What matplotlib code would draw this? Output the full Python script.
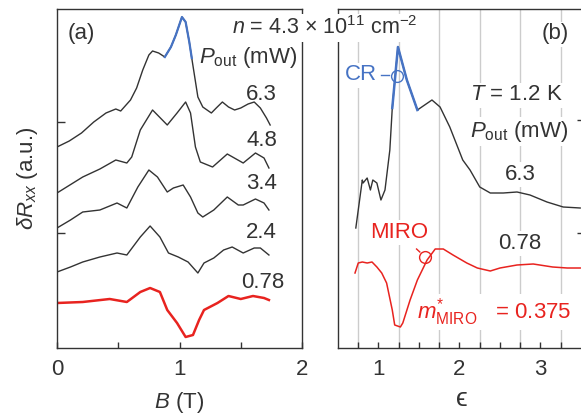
import matplotlib
matplotlib.use("Agg")
import matplotlib.pyplot as plt
import numpy as np

plt.rcParams['font.family'] = ['Liberation Sans', 'DejaVu Sans']
plt.rcParams['mathtext.fontset'] = 'custom'
plt.rcParams['mathtext.rm'] = 'Liberation Sans'
plt.rcParams['mathtext.it'] = 'Liberation Sans:italic'
plt.rcParams['mathtext.bf'] = 'Liberation Sans:bold'

# panel (a): dR_xx vs B, curves offset for each output power
B_63 = [0.0, 0.1, 0.2, 0.3, 0.4, 0.48, 0.52, 0.6, 0.65, 0.7, 0.75, 0.78, 0.83, 0.88, 0.93, 0.97,
        1.02, 1.05, 1.08, 1.10, 1.15, 1.19, 1.26, 1.30, 1.35, 1.40, 1.45, 1.50, 1.56, 1.61, 1.66, 1.71, 1.74]
r_63 = [201, 207, 215, 226, 235, 239, 237, 248, 260, 278, 293, 297, 295, 291, 301, 313,
        331, 326, 306, 290, 251, 241, 235, 240, 246, 241, 238, 240, 244, 246, 240, 230, 223]
B_48 = [0.0, 0.21, 0.35, 0.48, 0.57, 0.61, 0.68, 0.78, 0.90, 0.98, 1.05, 1.09, 1.13, 1.17, 1.27,
        1.39, 1.52, 1.62, 1.69, 1.73]
r_48 = [155, 171, 179, 188, 185, 191, 218, 238, 223, 235, 246, 235, 201, 186, 181,
        194, 185, 195, 190, 180]
B_34 = [0.0, 0.11, 0.21, 0.35, 0.49, 0.57, 0.66, 0.75, 0.82, 0.90, 0.95, 1.03, 1.09, 1.15, 1.19,
        1.28, 1.39, 1.48, 1.52, 1.62, 1.69, 1.73]
r_34 = [120, 128, 136, 138, 145, 140, 161, 178, 171, 156, 160, 163, 151, 135, 131,
        138, 151, 143, 143, 149, 145, 138]
B_24 = [0.0, 0.11, 0.21, 0.35, 0.49, 0.57, 0.68, 0.76, 0.84, 0.91, 0.99, 1.07, 1.15, 1.20, 1.28,
        1.36, 1.43, 1.52, 1.61, 1.66, 1.73]
r_24 = [76, 81, 86, 91, 95, 93, 111, 122, 111, 95, 91, 86, 75, 85, 90,
        98, 101, 95, 100, 100, 93]
B_078 = [0.0, 0.21, 0.43, 0.57, 0.68, 0.76, 0.84, 0.90, 0.98, 1.05, 1.11, 1.16, 1.20, 1.31, 1.40,
         1.50, 1.60, 1.69, 1.73]
r_078 = [45, 46, 49, 46, 56, 60, 56, 38, 25, 11, 13, 28, 38, 45, 52,
         49, 52, 50, 48]

# panel (b): same data vs epsilon
e_63 = [0.72, 0.80, 0.81, 0.86, 0.90, 0.93, 0.98, 1.03, 1.08, 1.14, 1.17, 1.24, 1.35, 1.48, 1.66,
        1.76, 1.88, 2.04, 2.13, 2.25, 2.38, 2.54, 2.71, 2.87, 3.08, 3.28, 3.49]
s_63 = [120, 168, 165, 170, 158, 168, 165, 148, 158, 198, 240, 301, 268, 238, 248,
        241, 221, 188, 178, 161, 155, 155, 156, 153, 146, 141, 140]
e_078 = [0.71, 0.75, 0.80, 0.86, 0.92, 0.98, 1.04, 1.10, 1.17, 1.20, 1.27, 1.30, 1.39, 1.48, 1.60,
         1.70, 1.80, 1.92, 2.09, 2.22, 2.38, 2.50, 2.71, 2.91, 3.15, 3.33, 3.49]
s_078 = [75, 85, 86, 85, 86, 81, 75, 65, 38, 23, 21, 25, 48, 68, 88,
         99, 99, 93, 85, 80, 77, 80, 83, 84, 81, 80, 80]
nodes = [0.75, 1.25, 1.75, 2.25, 2.75, 3.25]

black = '#333333'
blue = '#4673C4'
red = '#E8231F'
fs = 16

fig = plt.figure(figsize=(5.81, 4.2), dpi=100)
axa = fig.add_axes([57/581, 1-348/420, 245/581, 339/420])
axb = fig.add_axes([338/581, 1-348/420, 247/581, 339/420])

for x, y in [(B_63, r_63), (B_48, r_48), (B_34, r_34), (B_24, r_24)]:
    axa.plot(x, y, color=black, lw=1.0)
axa.plot(B_078, r_078, color=red, lw=1.8)
B_63 = np.array(B_63)
m = (B_63 >= 0.88) & (B_63 <= 1.10)
axa.plot(B_63[m], np.array(r_63)[m], color=blue, lw=1.6)

for e in nodes:
    axb.axvline(e, color='#cccccc', lw=1.0, zorder=0)
axb.plot(e_63, s_63, color=black, lw=1.0)
e_63 = np.array(e_63)
m = (e_63 >= 1.17) & (e_63 <= 1.48)
axb.plot(e_63[m], np.array(s_63)[m], color=blue, lw=1.8)
axb.plot(e_078, s_078, color=red, lw=1.1)

axa.set_xlim(0, 2)
axb.set_xlim(0.5, 0.5 + 247/81)
for ax in (axa, axb):
    ax.set_ylim(0, 339)
    for s in ax.spines.values():
        s.set_color(black)
        s.set_linewidth(1.0)
    ax.tick_params(direction='in', length=4, width=1, color=black, labelsize=fs, pad=8,
                   labelcolor=black, which='both')
    ax.tick_params(axis='y', length=6, labelleft=False, labelright=False)

axa.set_xticks([0, 1, 2])
axa.set_xticks([0.5, 1.5], minor=True)
axa.set_yticks([115, 226])
axb.set_xticks([1, 2, 3])
axb.set_xticks(np.arange(0.75, 3.5, 0.25), minor=True)
axb.set_yticks([115, 228])
axb.yaxis.tick_right()
axb.tick_params(axis='y', labelright=False)

axa.set_xlabel(r'$B$ (T)', fontsize=fs, color=black, labelpad=7)
axb.set_xlabel('ϵ', fontsize=19, color=black, labelpad=5)
axa.set_ylabel(r'$\delta R_{xx}$ (a.u.)', fontsize=fs, color=black, labelpad=12)

box = dict(facecolor='white', edgecolor='none', pad=1.5)
kw = dict(fontsize=fs, color=black)
axa.text(0.2, 315, '(a)', ha='center', va='center', **kw)
axa.text(1.96, 285, r'$P_{\rm out}$ (mW)', ha='right', va='baseline', **kw)
axa.text(1.67, 253, '6.3', ha='center', va='center', **kw)
axa.text(1.67, 208, '4.8', ha='center', va='center', **kw)
axa.text(1.67, 165, '3.4', ha='center', va='center', **kw)
axa.text(1.67, 116, '2.4', ha='center', va='center', **kw)
axa.text(1.68, 66, '0.78', ha='center', va='center', **kw)

fig.text(232/581, 1-28/420, r'$n$ = 4.3 × 10$^{11}$ cm$^{-2}$', ha='left', va='center',
         bbox=box, fontsize=15.5, color=black)

axb.text(3.18, 314, '(b)', ha='center', va='center', bbox=box, **kw)
axb.text(2.13, 253, r'$T$ = 1.2 K', ha='left', va='center', bbox=box, **kw)
axb.text(2.13, 211, r'$P_{\rm out}$ (mW)', ha='left', va='baseline', bbox=box, **kw)
axb.text(2.75, 174, '6.3', ha='center', va='center', bbox=box, **kw)
axb.text(2.75, 105, '0.78', ha='center', va='center', bbox=box, **kw)
axb.text(0.98, 273, 'CR', ha='right', va='center', bbox=box, fontsize=fs, color=blue)
axb.plot([1.03, 1.13], [273, 273], color=blue, lw=1.0)
axb.plot([1.23], [272], 'o', ms=8.5, mfc='none', mec=blue, mew=1.0)
axb.text(0.895, 116, 'MIRO', ha='left', va='center', bbox=box, fontsize=fs, color=red)
axb.plot([1.47, 1.51], [99, 96], color=red, lw=1.0)
axb.plot([1.57], [91], 'o', ms=8.5, mfc='none', mec=red, mew=1.0)
axb.text(1.475, 30, r'$m^{*}_{\rm MIRO}$   = 0.375', ha='left', va='baseline', bbox=box,
         fontsize=fs, color=red)

fig.savefig('out.png', dpi=100)
